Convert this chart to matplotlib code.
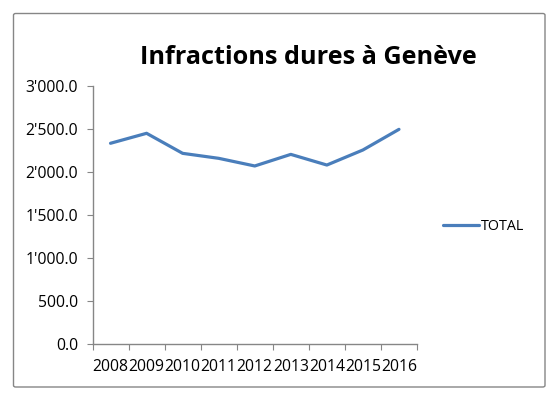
import matplotlib
matplotlib.use("Agg")
import matplotlib.pyplot as plt
from matplotlib.patches import FancyBboxPatch
from matplotlib.ticker import FuncFormatter, FixedLocator

# ----------------------------
# DATA
# ----------------------------
years = ["2008", "2009", "2010", "2011", "2012", "2013", "2014", "2015", "2016"]
total = [2334, 2450, 2217, 2159, 2070, 2205, 2081, 2256, 2496]
y_ticks = [0, 500, 1000, 1500, 2000, 2500, 3000]

LINE_COLOR = "#4A7EBB"
AXIS_COLOR = "#868686"
FONT = ["Open Sans", "DejaVu Sans"]
TICK_SIZE = 11.3

W, H = 558, 399
fig = plt.figure(figsize=(W / 100, H / 100), dpi=100)

# chart border
frame = FancyBboxPatch((13.5 / W, 1 - 387 / H), (545 - 13.5) / W, (387 - 13.5) / H,
                       boxstyle="round,pad=0,rounding_size=0.004",
                       transform=fig.transFigure, fill=False,
                       edgecolor=AXIS_COLOR, linewidth=1.0)
fig.patches.append(frame)

ax = fig.add_axes([92.5 / W, 1 - 344 / H, (417 - 92.5) / W, (344 - 86) / H])
x = list(range(len(years)))
ax.plot(x, total, color=LINE_COLOR, linewidth=2.3, label="TOTAL", solid_capstyle="round")

ax.set_xlim(-0.5, len(years) - 0.5)
ax.set_ylim(0, 3000)
ax.set_yticks(y_ticks)
ax.yaxis.set_major_formatter(FuncFormatter(lambda v, p: f"{v:,.1f}".replace(",", "'")))

# ticks between categories, labels at centres
ax.xaxis.set_major_locator(FixedLocator([i - 0.5 for i in range(len(years) + 1)]))
ax.xaxis.set_minor_locator(FixedLocator(x))
ax.set_xticklabels([""] * (len(years) + 1))
ax.set_xticklabels(years, minor=True)
ax.tick_params(axis="x", which="minor", length=0, pad=11)
ax.tick_params(axis="x", which="major", length=4, color=AXIS_COLOR, direction="out")
ax.tick_params(axis="y", length=4.5, color=AXIS_COLOR, direction="out", pad=6)

for lbl in ax.get_xticklabels(minor=True) + ax.get_yticklabels():
    lbl.set_family(FONT)
    lbl.set_fontsize(TICK_SIZE)
    lbl.set_color("#000000")

for s in ["top", "right"]:
    ax.spines[s].set_visible(False)
for s in ["left", "bottom"]:
    ax.spines[s].set_color(AXIS_COLOR)
    ax.spines[s].set_linewidth(1.0)

fig.text(308 / W, 1 - 58 / H, "Infractions dures à Genève", ha="center", va="center",
         fontsize=18.2, fontweight="bold", family=FONT)

leg = ax.legend(loc="center left", bbox_to_anchor=(436 / W, 1 - 227 / H),
                bbox_transform=fig.transFigure, frameon=False,
                handlelength=2.5, handletextpad=0.12, borderpad=0,
                prop={"family": FONT, "size": 10.3})

fig.savefig("out.png", dpi=100)
